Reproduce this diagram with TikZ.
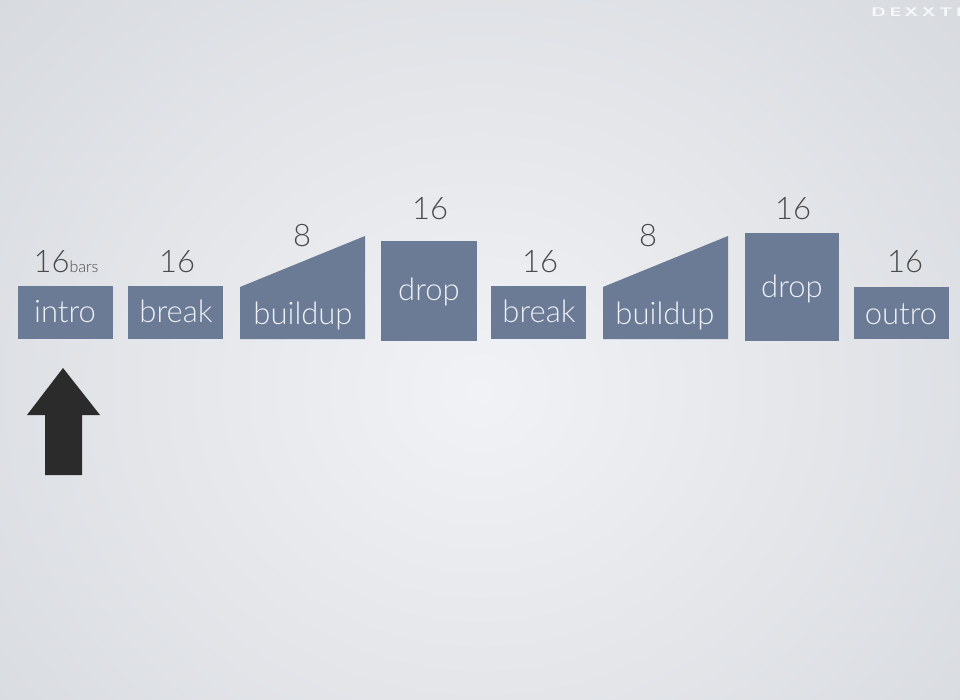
\documentclass[tikz,border=0pt]{standalone}
\usepackage{fontspec}
\setmainfont{Lato Light}
\definecolor{bgin}{HTML}{F1F2F5}
\definecolor{bgout}{HTML}{D6D9DE}
\definecolor{boxc}{HTML}{6B7B96}
\definecolor{boxtxt}{HTML}{EDF0F5}
\definecolor{numc}{HTML}{4A4A4A}
\definecolor{arrowc}{HTML}{2B2B2B}
\begin{document}
\begin{tikzpicture}[x=1pt,y=-1pt,
  blk/.style={fill=boxc,draw=none},
  blktext/.style={text=boxtxt,font=\fontsize{31}{36}\selectfont,anchor=base,inner sep=0pt},
  numtext/.style={text=numc,font=\fontsize{31}{34}\selectfont,anchor=base,inner sep=0pt}]
\useasboundingbox (0,0) rectangle (960,700);
\shade[inner color=bgin,outer color=bgout] (-200,-220) rectangle (1160,1000);
% logo
\node[text=white,opacity=0.8,font=\sffamily\bfseries\fontsize{12.5}{13}\selectfont,anchor=base west,inner sep=0pt] (logo) at (871,16.5) {\scalebox{1.5}[1]{D\hspace{2.2pt}E\hspace{2.2pt}X\hspace{2.2pt}X\hspace{2.2pt}T\hspace{2.2pt}E}};
% blocks
\fill[blk] (18,286) rectangle (113,339);
\fill[blk] (128,286) rectangle (223,339);
\fill[blk] (240,339) -- (240,287) -- (365,236) -- (365,339) -- cycle;
\fill[blk] (381,241) rectangle (477,341);
\fill[blk] (491,286) rectangle (586,339);
\fill[blk] (603,339) -- (603,287) -- (728,236) -- (728,339) -- cycle;
\fill[blk] (745,233) rectangle (839,341);
\fill[blk] (854,287) rectangle (949,339);
% block texts
\node[blktext] (intro) at (65,323) {intro};
\node[blktext] (break1) at (176,323) {break};
\node[blktext] (build1) at (303,324) {buildup};
\node[blktext] (drop1) at (429,301) {drop};
\node[blktext] (break2) at (539,323) {break};
\node[blktext] (build2) at (665,324) {buildup};
\node[blktext] (drop2) at (792,298) {drop};
\node[blktext] (outro) at (901,324) {outro};
% numbers
\node[numtext] (n1) at (66,273) {16{\fontsize{16}{18}\selectfont bars}};
\node[numtext] (n2) at (177,273) {16};
\node[numtext] (n3) at (302,247) {8};
\node[numtext] (n4) at (430,220) {16};
\node[numtext] (n5) at (540,273) {16};
\node[numtext] (n6) at (648,247) {8};
\node[numtext] (n7) at (793,220) {16};
\node[numtext] (n8) at (905,273) {16};
% arrow
\fill[arrowc] (63,368) -- (100,415) -- (82,415) -- (82,475) -- (45,475) -- (45,415) -- (27,415) -- cycle;
\end{tikzpicture}
\end{document}
